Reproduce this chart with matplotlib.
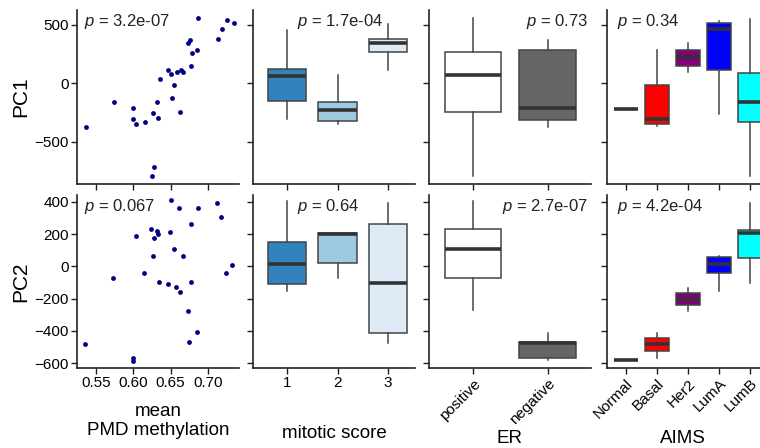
import numpy as np
import matplotlib
matplotlib.use('Agg')
import matplotlib.pyplot as plt

plt.rcParams['font.family'] = ['Liberation Sans', 'DejaVu Sans']
plt.rcParams['mathtext.fontset'] = 'custom'
plt.rcParams['mathtext.it'] = 'Liberation Sans:italic'
plt.rcParams['mathtext.rm'] = 'Liberation Sans'

# ---- scatter data: mean PMD methylation vs PC1 / PC2 ----
pmd_pc1 = [0.536, 0.574, 0.599, 0.600, 0.604, 0.615, 0.626, 0.632, 0.633, 0.636,
           0.628, 0.625, 0.647, 0.650, 0.658, 0.655, 0.652, 0.664, 0.667, 0.663,
           0.674, 0.676, 0.678, 0.679, 0.686, 0.687, 0.714, 0.719, 0.726, 0.735]
pc1 = [-373, -161, -216, -310, -345, -328, -259, -158, -302, 37,
       -716, -793, 112, 78, 92, -17, -123, 115, 92, -247,
       345, 365, 149, 261, 287, 560, 376, 460, 540, 517]

pmd_pc2 = [0.535, 0.573, 0.604, 0.599, 0.599, 0.614, 0.624, 0.626, 0.628, 0.632,
           0.633, 0.634, 0.647, 0.649, 0.651, 0.654, 0.657, 0.661, 0.663, 0.666,
           0.673, 0.675, 0.677, 0.678, 0.685, 0.687, 0.713, 0.718, 0.725, 0.733]
pc2 = [-480, -74, 191, -571, -585, -41, 232, 62, 178, 218,
       203, -95, -107, 212, 410, 106, -130, 365, -157, 65,
       -275, -467, -97, 265, -409, 361, 396, 307, -39, 11]

# ---- box stats: (whislo, q1, med, q3, whishi) ----
mitotic_labels = ['1', '2', '3']
mitotic_colors = ['#3182bd', '#9ecae1', '#deebf7']
mitotic_pc1 = [(-305, -152, 63, 121, 457),
               (-345, -325, -233, -158, 69),
               (112, 264, 342, 373, 509)]
mitotic_pc2 = [(-153, -107, 13, 154, 406),
               (-70, 19, 199, 210, 210),
               (-478, -412, -105, 263, 392)]

er_labels = ['positive', 'negative']
er_colors = ['#ffffff', '#666666']
er_pc1 = [(-793, -247, 72, 264, 557),
          (-373, -316, -216, 287, 365)]
er_pc2 = [(-271, -74, 106, 230, 406),
          (-580, -571, -478, -467, -412)]

aims_labels = ['Normal', 'Basal', 'Her2', 'LumA', 'LumB']
aims_colors = ['#00a000', '#ff0000', '#800080', '#0000ff', '#00ffff']
aims_pc1 = [(-218, -218, -218, -218, -218),
            (-368, -351, -310, -17, 284),
            (92, 149, 221, 279, 342),
            (-261, 112, 460, 514, 532),
            (-790, -330, -158, 86, 552)]
aims_pc2 = [(-581, -581, -581, -581, -581),
            (-567, -526, -482, -443, -416),
            (-275, -240, -200, -167, -132),
            (-153, -43, 15, 60, 65),
            (-105, 50, 209, 226, 392)]

pvals = [['3.2e-07', '1.7e-04', '0.73', '0.34'],
         ['0.067', '0.64', '2.7e-07', '4.2e-04']]

W, H = 760, 448
fig = plt.figure(figsize=(W / 100, H / 100), dpi=100)

lefts = [77, 253, 429, 607]
pw = 162
rows = [(10, 184), (195, 368)]
axes = [[fig.add_axes([l / W, 1 - b / H, pw / W, (b - t) / H]) for l in lefts] for (t, b) in rows]

ylims = [(-862, 625), (-631, 443)]
yticks = [[-500, 0, 500], [-600, -400, -200, 0, 200, 400]]
spine_col = '#222222'


def style(ax, r):
    for s in ['top', 'right']:
        ax.spines[s].set_visible(False)
    for s in ['left', 'bottom']:
        ax.spines[s].set_color(spine_col)
        ax.spines[s].set_linewidth(1.2)
    ax.tick_params(direction='out', length=4, width=1, color=spine_col,
                   labelsize=11, pad=2)
    ax.set_ylim(*ylims[r])
    ax.set_yticks(yticks[r])


def boxes(ax, stats, colors, width):
    bx = []
    for s in stats:
        bx.append(dict(whislo=s[0], q1=s[1], med=s[2], q3=s[3], whishi=s[4], fliers=[]))
    pos = np.arange(1, len(stats) + 1)
    res = ax.bxp(bx, positions=pos, widths=width, patch_artist=True, showcaps=False,
                 boxprops=dict(edgecolor='#444444', linewidth=1.1),
                 whiskerprops=dict(color='#444444', linewidth=1.1),
                 medianprops=dict(color='#333333', linewidth=2.6, solid_capstyle='butt'))
    for p, c in zip(res['boxes'], colors):
        p.set_facecolor(c)


for r, (xs, ys) in enumerate([(pmd_pc1, pc1), (pmd_pc2, pc2)]):
    ax = axes[r][0]
    ax.scatter(xs, ys, s=12, color='#000080', linewidths=0, zorder=3)
    ax.set_xlim(0.524, 0.742)
    ax.set_xticks([0.55, 0.60, 0.65, 0.70])
    style(ax, r)
    ax.set_ylabel(['PC1', 'PC2'][r], fontsize=15, labelpad=3)

    ax = axes[r][1]
    boxes(ax, [mitotic_pc1, mitotic_pc2][r], mitotic_colors, 0.76)
    ax.set_xlim(0.33, 3.53)
    ax.set_xticks([1, 2, 3])
    ax.set_xticklabels(mitotic_labels)
    style(ax, r)

    ax = axes[r][2]
    boxes(ax, [er_pc1, er_pc2][r], er_colors, 0.76)
    ax.set_xlim(0.41, 2.58)
    ax.set_xticks([1, 2])
    ax.set_xticklabels(er_labels, rotation=45, ha='right', rotation_mode='anchor')
    style(ax, r)

    ax = axes[r][3]
    boxes(ax, [aims_pc1, aims_pc2][r], aims_colors, 0.8)
    ax.set_xlim(0.39, 0.39 + 162 / 31)
    ax.set_xticks([1, 2, 3, 4, 5])
    ax.set_xticklabels(aims_labels, rotation=45, ha='right', rotation_mode='anchor')
    style(ax, r)

    for c in range(1, 4):
        axes[r][c].tick_params(labelleft=False)
    if r == 0:
        for c in range(4):
            axes[r][c].tick_params(labelbottom=False)

    # p-values
    ptx = [(0.045, 'left'), (0.27, 'left'), (0.985, 'right'), (0.06, 'left')]
    for c in range(4):
        x, ha = ptx[c]
        axes[r][c].text(x, 0.99, '$p$ = ' + pvals[r][c], transform=axes[r][c].transAxes,
                        ha=ha, va='top', fontsize=12, color='#222222')

# x labels on bottom row
xl = [('mean\nPMD methylation', -0.20), ('mitotic score', -0.33),
      ('ER', -0.36), ('AIMS', -0.36)]
for c, (lab, y) in enumerate(xl):
    ax = axes[1][c]
    ax.set_xlabel(lab, fontsize=13.5, linespacing=1.2)
    ax.xaxis.set_label_coords(0.5 if c < 3 else (683 - 607) / pw, y)

fig.savefig('out.png', dpi=100)
